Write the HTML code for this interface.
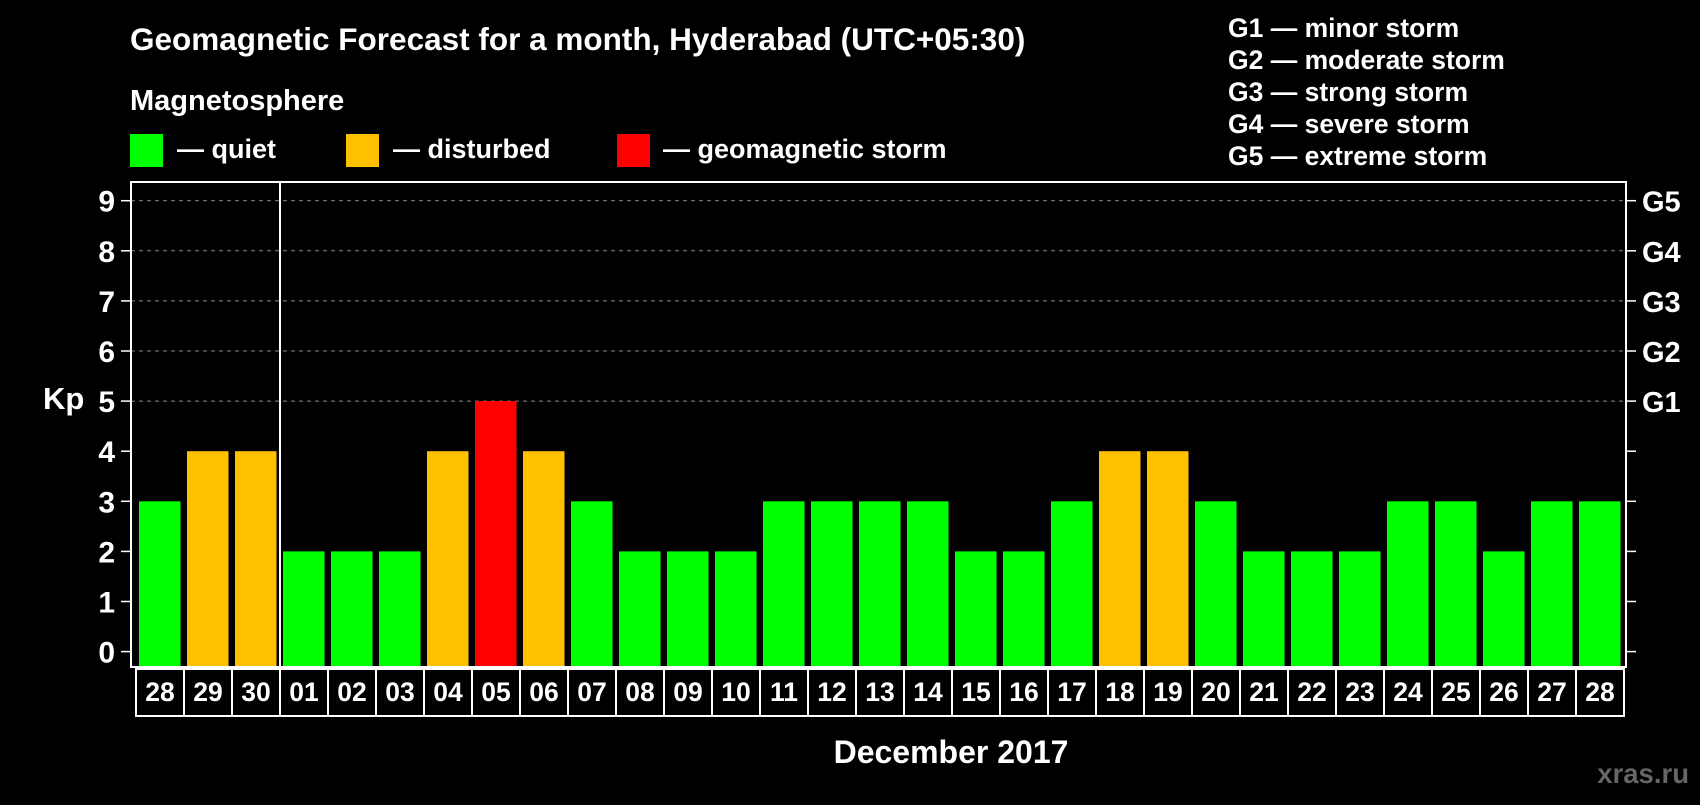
<!DOCTYPE html>
<html><head><meta charset="utf-8"><style>
body{margin:0;background:#000;width:1700px;height:800px;overflow:hidden}
svg text{font-family:"Liberation Sans",Arial,sans-serif;font-weight:bold;fill:#fff}
</style></head><body>
<svg id="c" width="1700" height="800" viewBox="0 0 1700 800">
<text x="130" y="50" font-size="31.5">Geomagnetic Forecast for a month, Hyderabad (UTC+05:30)</text>
<text x="130" y="110" font-size="29">Magnetosphere</text>
<rect x="130" y="134" width="33" height="33" fill="#00ff00"/>
<text x="177" y="158" font-size="27">— quiet</text>
<rect x="346" y="134" width="33" height="33" fill="#ffc000"/>
<text x="393" y="158" font-size="27">— disturbed</text>
<rect x="617" y="134" width="33" height="33" fill="#ff0000"/>
<text x="663" y="158" font-size="27">— geomagnetic storm</text>
<g font-size="26.5">
<text x="1228" y="37">G1 — minor storm</text>
<text x="1228" y="69">G2 — moderate storm</text>
<text x="1228" y="101">G3 — strong storm</text>
<text x="1228" y="133">G4 — severe storm</text>
<text x="1228" y="165">G5 — extreme storm</text>
</g>
<text x="43" y="409" font-size="31">Kp</text>
<text x="951" y="763" font-size="32" text-anchor="middle">December 2017</text>
<text x="1689" y="783" font-size="27.5" text-anchor="end" style="fill:#666">xras.ru</text>
<g id="plot"></g>
</svg>
<script>
const days=["28","29","30","01","02","03","04","05","06","07","08","09","10","11","12","13","14","15","16","17","18","19","20","21","22","23","24","25","26","27","28"];
const kp=[3,4,4,2,2,2,4,5,4,3,2,2,2,3,3,3,3,2,2,3,4,4,3,2,2,2,3,3,2,3,3];
const yTicks=[0,1,2,3,4,5,6,7,8,9];
const gLabels=["","","","","","G1","G2","G3","G4","G5"];
const NS="http://www.w3.org/2000/svg";
const g=document.getElementById('plot');
const y=v=>651.6-v*50.1;
const x=i=>139+i*48;
function mk(t,a){const e=document.createElementNS(NS,t);for(const k in a)e.setAttribute(k,a[k]);g.appendChild(e);return e;}
yTicks.forEach((v,i)=>{
  if(v>=5){const l=mk('line',{x1:131,x2:1626,y1:y(v),y2:y(v),stroke:'#888','stroke-dasharray':'4,4','stroke-width':1});
  
  }
  const t1=mk('line',{x1:121,x2:131,y1:y(v),y2:y(v),stroke:'#fff','stroke-width':1.5});
  
  
  const t2=mk('line',{x1:1626,x2:1636,y1:y(v),y2:y(v),stroke:'#fff','stroke-width':1.5});
  
  
  const tl=mk('text',{x:115,y:y(v)+11,'font-size':30,'text-anchor':'end'});tl.textContent=v;
  
  
  if(gLabels[i]){const gl=mk('text',{x:1642,y:y(v)+11,'font-size':29});gl.textContent=gLabels[i];
  
  }
});
kp.forEach((v,i)=>{
  const col=v>=5?'#ff0000':v>=4?'#ffc000':'#00ff00';
  const b=mk('rect',{x:x(i),y:y(v),width:41.5,height:667-y(v),fill:col});
  
  
  const c=mk('rect',{x:x(i)-3,y:669,width:48,height:47,fill:'none',stroke:'#fff','stroke-width':2});
  
  
  const t=mk('text',{x:x(i)+21,y:701,'font-size':26.5,'text-anchor':'middle'});t.textContent=days[i];
  
  
});
const f=mk('rect',{x:131,y:182,width:1495,height:485,fill:'none',stroke:'#fff','stroke-width':2});


const s=mk('line',{x1:280,x2:280,y1:182,y2:667,stroke:'#fff','stroke-width':2});


</script>
</body></html>
